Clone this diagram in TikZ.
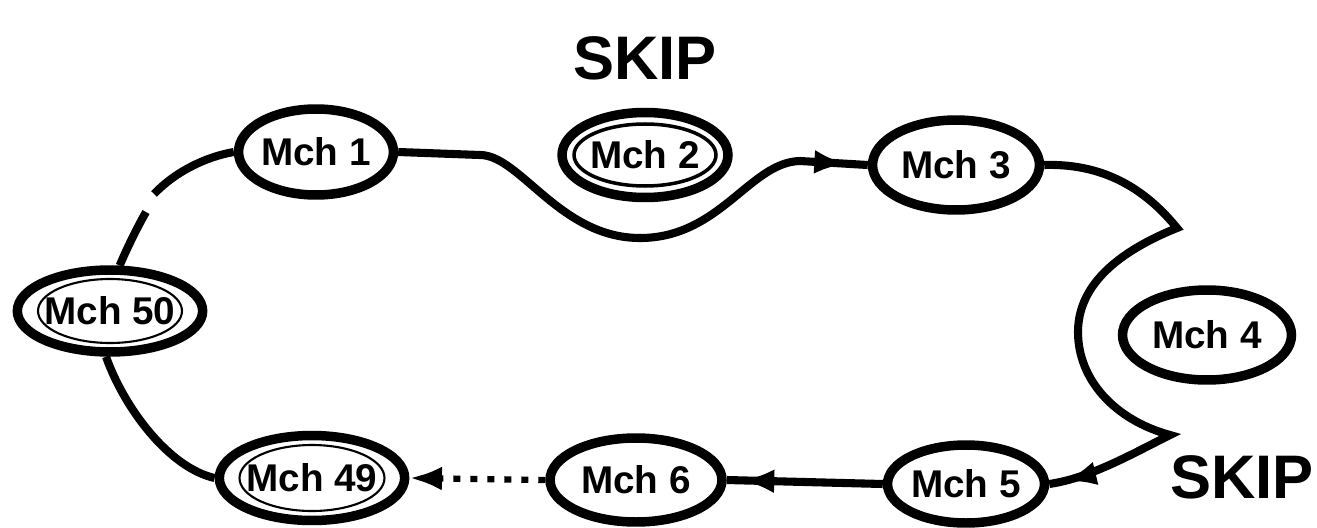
\documentclass[tikz,border=0pt]{standalone}
\usepackage{fontspec}
\setmainfont{Liberation Sans}
\usetikzlibrary{shapes.geometric,arrows.meta,decorations.markings}
\tikzset{
  mch/.style={ellipse,draw,line width=5.4pt,inner sep=0pt,
    font=\fontsize{22}{26}\selectfont\bfseries},
  conn/.style={line width=4.6pt,line join=miter},
  skiplabel/.style={font=\fontsize{35}{40}\selectfont\bfseries,inner sep=0pt},
  bigtip/.tip={Latex[length=6.5mm,width=4.8mm]},
  endarrow/.style={postaction={decorate},decoration={markings,
    mark=at position #1 with {\arrow{bigtip}}}},
  dotline/.style={line width=3.6pt,dash pattern=on 0.14cm off 0.2cm},
  innerring/.style={line width=#1}
}
\begin{document}
\begin{tikzpicture}[x=0.02cm,y=-0.02cm]
\useasboundingbox[fill=white] (0,0) rectangle (1317,527);

% machines
\node[mch,minimum width=3.06cm,minimum height=1.72cm] (m1) at (316,152) {Mch 1};
\node[mch,minimum width=3.32cm,minimum height=1.70cm] (m2) at (645,155) {Mch 2};
\node[mch,minimum width=3.34cm,minimum height=1.80cm] (m3) at (956,165) {Mch 3};
\node[mch,minimum width=3.38cm,minimum height=1.80cm] (m4) at (1207,335) {Mch 4};
\node[mch,minimum width=3.14cm,minimum height=1.56cm] (m5) at (966,484) {Mch 5};
\node[mch,minimum width=3.44cm,minimum height=1.68cm] (m6) at (636,480) {Mch 6};
\node[mch,minimum width=3.30cm,minimum height=1.70cm] (m49) at (312,478) {Mch 49};
\node[mch,minimum width=3.28cm,minimum height=1.64cm] (m50) at (110,311) {Mch 50};

% inner rings
\draw[innerring=2pt] (m2.center) ellipse [x radius=1.42cm, y radius=0.62cm];
\draw[innerring=1.2pt] (m50.center) ellipse [x radius=1.44cm, y radius=0.64cm];
\draw[innerring=1.2pt] (m49.center) ellipse [x radius=1.45cm, y radius=0.66cm];

% skip labels
\node[skiplabel] (s1) at (645,58) {SKIP};
\node[skiplabel,anchor=east] (s2) at (1314,477) {SKIP};

% helper coordinates
\coordinate (gA) at (146,212);
\coordinate (gB) at (154,194);
\coordinate (a1) at (480,155);
\coordinate (a2) at (640,238);
\coordinate (a3) at (800,161);
\coordinate (b2) at (1177,228);
\coordinate (b3) at (1078,332);
\coordinate (b4) at (1170,435);

% Mch 50 -> Mch 1 (broken)
\draw[conn] (m50.78) .. controls (128,246) and (137,228) .. (gA);
\draw[conn] (gB) .. controls (175,172) and (205,157) .. (m1.west);

% Mch 1 -> Mch 3 skipping Mch 2
\draw[conn,endarrow=-0.42cm] (m1.east) -- (a1)
  .. controls (520,155) and (560,238) .. (a2)
  .. controls (720,238) and (750,162) .. (a3) -- (m3.west);

% Mch 3 -> Mch 5 skipping Mch 4
\draw[conn,endarrow=-0.3cm] (m3.east)
  .. controls (1110,163) and (1150,195) .. (b2)
  .. controls (1110,255) and (1078,290) .. (b3)
  .. controls (1078,380) and (1115,420) .. (b4)
  .. controls (1130,455) and (1090,478) .. (m5.east);

% Mch 5 -> Mch 6
\draw[conn,endarrow=-0.3cm] (m5.west) -- (m6.east);

% Mch 6 -> Mch 49 (dotted)
\draw[dotline,-bigtip] (m6.west) -- (m49.east);

% Mch 49 -> Mch 50
\draw[conn] (m49.west) .. controls (170,468) and (125,410) .. (m50.265);
\end{tikzpicture}
\end{document}
